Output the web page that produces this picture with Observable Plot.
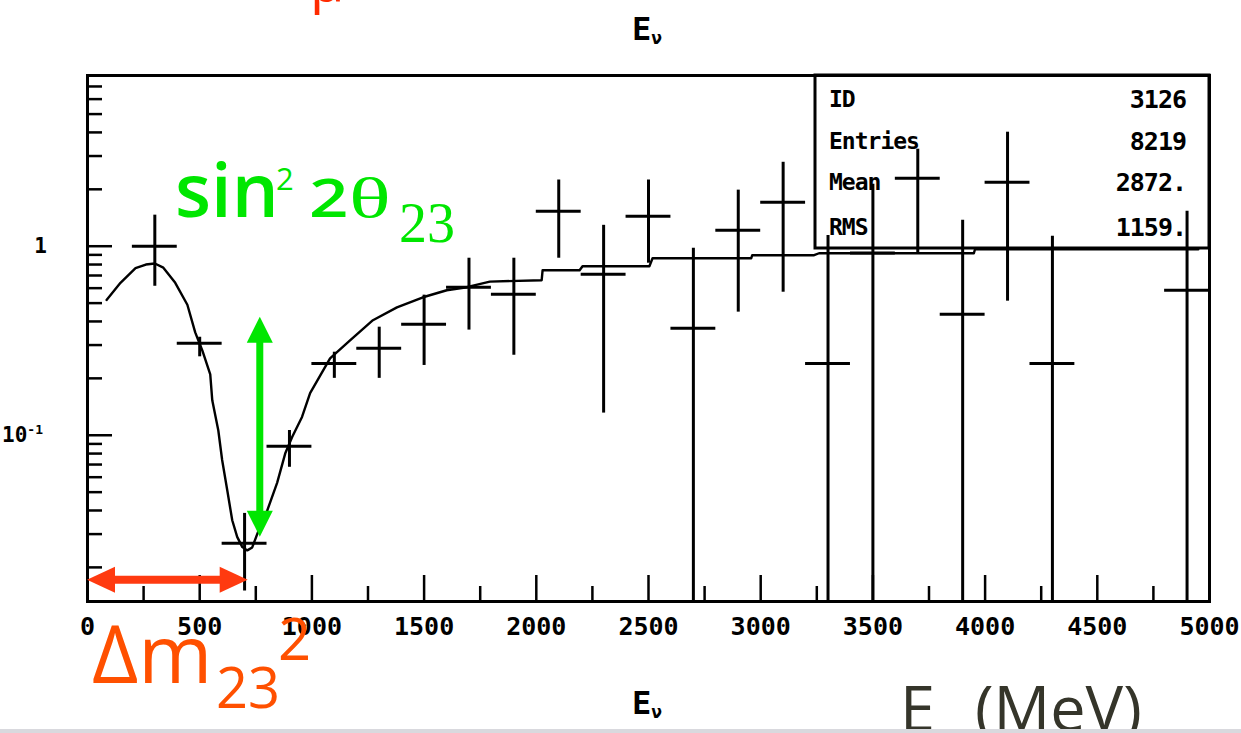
<!DOCTYPE html>
<html>
<head>
<meta charset="utf-8">
<style>
  html, body { margin: 0; padding: 0; background: #fff; overflow: hidden; }
  #chart svg { display: block; }
</style>
<script src="https://cdn.jsdelivr.net/npm/d3@7"></script>
<script src="https://cdn.jsdelivr.net/npm/@observablehq/plot@0.6"></script>
</head>
<body>
<div id="chart"></div>
<script>
// ---- data ----
const binHalfWidth = 100; // MeV
const energy = [300, 500, 700, 900, 1100, 1300, 1500, 1700, 1900, 2100, 2300, 2500, 2700, 2900, 3100, 3300, 3500, 3700, 3900, 4100, 4300, 4900];
const ratio  = [1.00, 0.307, 0.0268, 0.0875, 0.240, 0.289, 0.387, 0.607, 0.557, 1.53, 0.711, 1.44, 0.368, 1.215, 1.71, 0.240, 0.92, 2.29, 0.437, 2.18, 0.240, 0.585];
const errLow = [0.614, 0.26, 0.0150, 0.0677, 0.200, 0.200, 0.234, 0.360, 0.265, 0.864, 0.131, 0.813, null, 0.448, 0.571, null, null, 0.907, null, 0.512, null, null];
const errHigh = [1.46, 0.33, 0.0386, 0.106, 0.275, 0.373, 0.551, 0.864, 0.864, 2.24, 1.29, 2.24, 0.976, 1.98, 2.78, 1.14, 2.13, 3.26, 1.37, 4.01, 1.13, 1.53];

const curveE = [85, 147, 214, 260, 300, 338, 391, 445, 480, 512, 547, 556, 583, 600, 623, 645, 667, 690, 712, 734, 761, 801, 845, 881, 912, 956, 992, 1040, 1081, 1170, 1272, 1379, 1495, 1601, 1690, 1793, 2024, 2028, 2193, 2206, 2504, 2518, 2958, 2962, 3238, 3260, 3950, 3955, 4950];
const curveV = [0.52, 0.64, 0.765, 0.80, 0.81, 0.77, 0.64, 0.49, 0.35, 0.28, 0.21, 0.153, 0.106, 0.074, 0.051, 0.0355, 0.029, 0.0256, 0.0246, 0.0255, 0.031, 0.040, 0.056, 0.080, 0.098, 0.125, 0.167, 0.21, 0.255, 0.318, 0.406, 0.475, 0.537, 0.585, 0.607, 0.65, 0.661, 0.746, 0.746, 0.784, 0.784, 0.864, 0.864, 0.896, 0.896, 0.918, 0.918, 0.964, 0.964];

const xDomain = [0, 5000];
const yDomain = [0.0132, 8.0];
const xLabelTicks = [0, 500, 1000, 1500, 2000, 2500, 3000, 3500, 4000, 4500, 5000];
const xMinorTicks = [250, 750, 1250, 1750, 2250, 2750, 3250, 3750, 4250, 4750];
const yMajorTicks = [0.1, 1];
const yMinorTicks = [0.02, 0.03, 0.04, 0.05, 0.06, 0.07, 0.08, 0.09, 0.2, 0.3, 0.4, 0.5, 0.6, 0.7, 0.8, 0.9, 2, 3, 4, 5, 6, 7];
const yTickBase = {1: "1", 0.1: "10"};
const yTickExp = {1: "", 0.1: "-1"};

const statNames = ["ID", "Entries", "Mean", "RMS"];
const statValues = ["3126", "8219", "2872.", "1159."];

// Annotation anchors (data space)
const sinArrow = {e: 770, from: 0.0289, to: 0.421};
const dmArrow = {v: 0.0171, from: 0, to: 716};

// ---- layout ----
const W = 1241, H = 733;
const mL = 87, mR = 32, mT = 75, mB = 132;
const innerW = W - mL - mR, innerH = H - mT - mB;
const pawFont = "DejaVu Sans Mono";

const points = energy.map((e, i) => ({e, v: ratio[i], lo: errLow[i], hi: errHigh[i]}));
const curve = curveE.map((e, i) => ({e, v: curveV[i]}));

const plot = Plot.plot({
  width: W, height: H,
  marginLeft: mL, marginRight: mR, marginTop: mT, marginBottom: mB,
  style: {background: "#fff", overflow: "visible"},
  x: {domain: xDomain, axis: null},
  y: {type: "log", domain: yDomain, axis: null},
  marks: [
    // ticks inside the frame
    Plot.ruleX(xLabelTicks, {x: d => d, insetTop: innerH - 26, stroke: "#000", strokeWidth: 2.5}),
    Plot.ruleX(xMinorTicks, {x: d => d, insetTop: innerH - 15, stroke: "#000", strokeWidth: 2.5}),
    Plot.ruleY(yMajorTicks, {y: d => d, insetRight: innerW - 25, stroke: "#000", strokeWidth: 2.5}),
    Plot.ruleY(yMinorTicks, {y: d => d, insetRight: innerW - 15, stroke: "#000", strokeWidth: 2.5}),
    Plot.axisX(xLabelTicks, {anchor: "bottom", tickSize: 0, tickPadding: 16, label: null,
      tickFormat: d => String(d), fontSize: 25, fontWeight: "bold", fontFamily: pawFont, fill: "#000"}),
    // fitted curve
    Plot.line(curve, {x: "e", y: "v", stroke: "#000", strokeWidth: 2.4}),
    // data crosses
    Plot.ruleX(points, {x: "e", y1: d => d.lo ?? yDomain[0], y2: "hi", stroke: "#000", strokeWidth: 3}),
    Plot.ruleY(points, {y: "v", x1: d => d.e - binHalfWidth, x2: d => d.e + binHalfWidth, stroke: "#000", strokeWidth: 3}),
    Plot.frame({stroke: "#000", strokeWidth: 3})
  ]
});

document.getElementById("chart").appendChild(plot);

const svg = d3.select(plot);
const xs = plot.scale("x"), ys = plot.scale("y");
const X = v => xs.apply(v), Y = v => ys.apply(v);
const frameRight = W - mR, frameTop = mT;

const txt = () => svg.append("text").attr("text-anchor", "start");

// y tick labels (10^-1 with a real superscript)
yMajorTicks.forEach(t => {
  const el = svg.append("text").attr("text-anchor", "end").attr("x", yTickExp[t] ? 43 : 47).attr("y", Y(t)).attr("dy", "0.35em")
    .attr("font-family", pawFont).attr("font-weight", "bold").attr("font-size", 21).attr("fill", "#000");
  el.append("tspan").text(yTickBase[t]);
  if (yTickExp[t]) el.append("tspan").attr("font-size", 13).attr("dy", -8).text(yTickExp[t]);
});

// stats box
const boxLeft = 815, boxBottom = 248;
svg.append("rect").attr("x", boxLeft).attr("y", frameTop).attr("width", frameRight - boxLeft)
  .attr("height", boxBottom - frameTop).attr("fill", "none").attr("stroke", "#000").attr("stroke-width", 3);
const statRows = [99, 141, 182, 227];
statNames.forEach((n, i) => {
  txt().attr("x", 829).attr("y", statRows[i]).attr("dy", "0.35em")
    .attr("font-family", pawFont).attr("font-weight", "bold").attr("font-size", 23)
    .attr("letter-spacing", -1).text(n);
  svg.append("text").attr("x", 1186).attr("y", statRows[i]).attr("dy", "0.35em").attr("text-anchor", "end")
    .attr("font-family", pawFont).attr("font-weight", "bold").attr("font-size", 25)
    .attr("letter-spacing", -1).text(statValues[i]);
});

// titles (PAW style)
function pawTitle(y) {
  const t = txt().attr("x", 632).attr("y", y)
    .attr("font-family", pawFont).attr("font-weight", "bold").attr("font-size", 32).attr("fill", "#000");
  t.append("tspan").text("E");
  t.append("tspan").attr("font-size", 18).attr("dy", 4).text("\u03BD");
}
pawTitle(40);
pawTitle(714);

// arrows
function doubleArrow(x1, y1, x2, y2, color, shaft, headL, headW) {
  const dx = x2 - x1, dy = y2 - y1, len = Math.hypot(dx, dy);
  const ux = dx / len, uy = dy / len, px = -uy, py = ux;
  svg.append("line").attr("x1", x1 + ux * headL * 0.9).attr("y1", y1 + uy * headL * 0.9)
    .attr("x2", x2 - ux * headL * 0.9).attr("y2", y2 - uy * headL * 0.9)
    .attr("stroke", color).attr("stroke-width", shaft);
  const head = (tx, ty, s) => {
    const bx = tx - s * ux * headL, by = ty - s * uy * headL;
    svg.append("polygon").attr("fill", color).attr("points",
      `${tx},${ty} ${bx + px * headW / 2},${by + py * headW / 2} ${bx - px * headW / 2},${by - py * headW / 2}`);
  };
  head(x2, y2, 1);
  head(x1, y1, -1);
}
doubleArrow(X(sinArrow.e), Y(sinArrow.from), X(sinArrow.e), Y(sinArrow.to), "#00e600", 7, 26, 26);
doubleArrow(X(dmArrow.from), Y(dmArrow.v), X(dmArrow.to), Y(dmArrow.v), "#ff3a10", 8, 28, 26);

// green label sin^2 2θ_23 (glyphs placed one by one, some widened)
const green = "#00e600";
const g = txt().attr("fill", green);
g.append("tspan").attr("x", 175).attr("y", 217).attr("font-family", "Open Sans").attr("font-weight", 600).attr("font-size", 74).text("sin");
g.append("tspan").attr("x", 276).attr("y", 190).attr("font-family", "Open Sans").attr("font-size", 31).text("2");
txt().attr("transform", "translate(309,217) scale(1.3,1)").attr("fill", green)
  .attr("font-family", "Open Sans").attr("font-weight", 600).attr("font-size", 53).text("2");
txt().attr("transform", "translate(349,217) scale(1.5,1)").attr("fill", green)
  .attr("font-family", "Liberation Serif").attr("font-size", 58).text("\u03B8");
txt().attr("x", 399).attr("y", 242).attr("fill", green)
  .attr("font-family", "Liberation Serif").attr("font-size", 56).text("23");

// orange label Δm_23^2
const d = txt().attr("fill", "#ff5000").attr("font-family", "Open Sans");
d.append("tspan").attr("x", 92).attr("y", 683).attr("font-size", 80).text("\u0394m");
d.append("tspan").attr("x", 216).attr("y", 708).attr("font-size", 56).text("23");
d.append("tspan").attr("x", 278).attr("y", 660).attr("font-size", 58).text("2");

// axis title E_ν (MeV)
const e = txt().attr("fill", "#35352a").attr("font-family", "Open Sans");
e.append("tspan").attr("x", 900).attr("y", 731).attr("font-size", 63).text("E");
e.append("tspan").attr("x", 932).attr("y", 752).attr("font-size", 40).text("\u03BD");
e.append("tspan").attr("x", 975).attr("y", 731).attr("font-size", 63).text("(MeV)");

// partially visible red glyph at the top edge
txt().attr("x", 310).attr("y", 1).attr("fill", "#ff2a00").attr("font-family", "Open Sans")
  .attr("font-size", 56).text("\u03BC");

// bottom grey strip of the slide
svg.append("rect").attr("x", 0).attr("y", H - 4).attr("width", W).attr("height", 4).attr("fill", "#d9d9de");
</script>
</body>
</html>
